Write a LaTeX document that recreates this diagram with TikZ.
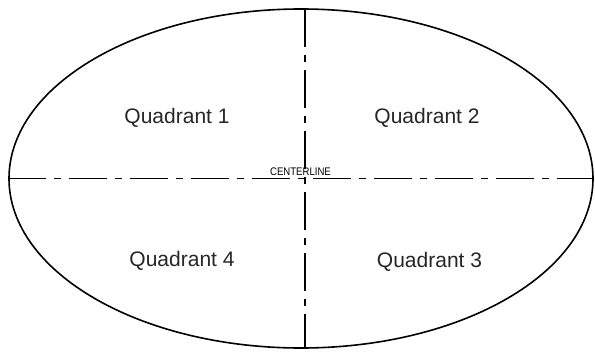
\documentclass[tikz,border=0pt]{standalone}
\usepackage{fontspec}
\setmainfont{Liberation Sans}
\usepackage{graphicx}
\usepackage{tikz}
\usetikzlibrary{shapes.geometric}

\begin{document}
\begin{tikzpicture}[
  x=1bp, y=1bp,
  outline/.style={
    draw, ellipse, line width=1.6bp,
    minimum width=584bp, minimum height=339bp,
    inner sep=0pt
  },
  cline/.style={
    line width=1.2bp,
    dash pattern=on 38bp off 8bp on 7bp off 8bp
  },
  quad/.style={
    anchor=base, inner sep=0pt,
    font=\fontsize{21bp}{24bp}\selectfont, text=black!85
  },
  tag/.style={
    anchor=base, inner sep=0pt,
    font=\fontsize{11bp}{12bp}\selectfont
  }
]
\useasboundingbox (0,0) rectangle (595,351);

\node[outline] (oval) at (301,172.5) {};

% centre lines
\coordinate (top) at (305,342);
\coordinate (bot) at (305,3);
\draw[cline] (oval.west) -- (oval.east);
\draw[cline] (top) -- (bot);

\node[tag] (cl) at (300.5,176) {\scalebox{0.87}[1]{CENTERLINE}};

\node[quad] (q1) at (177,228) {Quadrant 1};
\node[quad] (q2) at (427,228) {Quadrant 2};
\node[quad] (q4) at (182,85) {Quadrant 4};
\node[quad] (q3) at (429.5,84) {Quadrant 3};

\end{tikzpicture}
\end{document}
